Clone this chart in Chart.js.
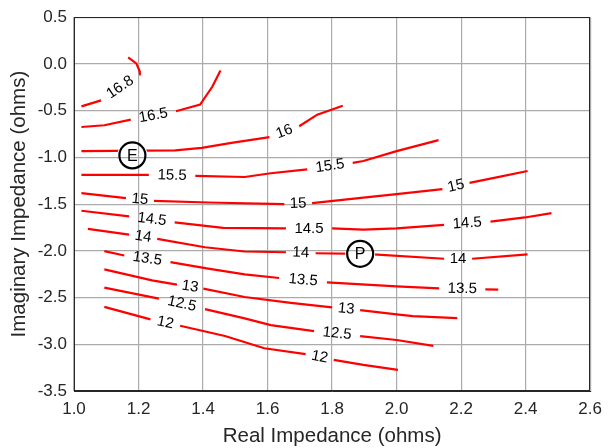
<!DOCTYPE html>
<html><head><meta charset="utf-8">
<script src="https://cdn.jsdelivr.net/npm/chart.js@4.4.1/dist/chart.umd.min.js"></script>
<style>html,body{margin:0;padding:0;background:#fff}#wrap{width:610px;height:448px;position:relative}</style>
</head><body><div id="wrap"><canvas id="c"></canvas></div>
<script>
const xTicks = [1.0, 1.2, 1.4, 1.6, 1.8, 2.0, 2.2, 2.4, 2.6];
const yTicks = [-3.5, -3.0, -2.5, -2.0, -1.5, -1.0, -0.5, 0.0, 0.5];

const levels = ['16.8', '16.5', '16', '15.5', '15', '14.5', '14', '13.5', '13', '12.5', '12'];

// contour polylines [real, imag]; null = gap where the contour label sits
const c16_8 = [[1.023,-0.454],[1.084,-0.390],null,[1.202,-0.111],[1.204,-0.082],[1.193,0.006],[1.168,0.070]];
const c16_5 = [[1.023,-0.675],[1.094,-0.656],[1.176,-0.596],null,[1.316,-0.507],[1.391,-0.436],[1.429,-0.242],[1.454,-0.071]];
const c16   = [[1.023,-0.933],[1.314,-0.926],[1.396,-0.898],[1.488,-0.845],[1.606,-0.784],null,[1.698,-0.667],[1.754,-0.543],[1.833,-0.447]];
const c15_5 = [[1.023,-1.188],[1.232,-1.188],null,[1.376,-1.199],[1.529,-1.210],[1.610,-1.170],[1.723,-1.128],null,[1.864,-1.058],[1.897,-1.039],[2.000,-0.933],[2.130,-0.816]];
const c15   = [[1.023,-1.383],[1.161,-1.436],null,[1.248,-1.465],[1.416,-1.483],[1.652,-1.500],null,[1.738,-1.489],[1.897,-1.430],[2.000,-1.394],[2.142,-1.340],null,[2.226,-1.273],[2.306,-1.217],[2.406,-1.146]];
const c14_5 = [[1.023,-1.571],[1.171,-1.632],null,[1.312,-1.696],[1.462,-1.755],[1.657,-1.760],null,[1.800,-1.760],[1.897,-1.773],[2.000,-1.760],[2.147,-1.723],null,[2.291,-1.688],[2.398,-1.643],[2.480,-1.596]];
const c14   = [[1.043,-1.766],[1.171,-1.827],null,[1.258,-1.872],[1.406,-1.962],[1.529,-2.007],[1.657,-2.015],null,[1.749,-2.026],[1.887,-2.032],[1.928,-2.039],[2.147,-2.085],null,[2.234,-2.085],[2.406,-2.039]];
const c13_5 = [[1.094,-2.004],[1.156,-2.050],null,[1.299,-2.121],[1.416,-2.191],[1.529,-2.252],[1.636,-2.291],null,[1.784,-2.337],[2.000,-2.380],[2.132,-2.401],null,[2.275,-2.412],[2.315,-2.415]];
const c13   = [[1.094,-2.199],[1.242,-2.316],[1.319,-2.362],null,[1.401,-2.404],[1.529,-2.494],[1.672,-2.557],[1.800,-2.606],null,[1.887,-2.635],[2.000,-2.681],[2.050,-2.699],[2.188,-2.720]];
const c12_5 = [[1.094,-2.394],[1.263,-2.511],null,[1.406,-2.624],[1.529,-2.723],[1.610,-2.795],[1.744,-2.859],null,[1.887,-2.912],[2.000,-2.954],[2.114,-3.018]];
const c12   = [[1.094,-2.600],[1.237,-2.734],null,[1.329,-2.802],[1.468,-2.912],[1.590,-3.043],[1.718,-3.106],null,[1.805,-3.167],[1.897,-3.220],[2.004,-3.273]];

const contours = [c16_8, c16_5, c16, c15_5, c15, c14_5, c14, c13_5, c13, c12_5, c12];

const markerNames = ['E', 'P'];
const markerX = [1.181, 1.887];
const markerY = [-0.979, -2.032];

const FONT = "'Liberation Sans', Arial, Helvetica, sans-serif";
const TXT = '#262626';
const MARK_R = 13;

const datasets = contours.map((arr, k) => ({
  label: levels[k],
  isContour: true,
  data: arr.map((p, i) => p ? {x: p[0], y: p[1]} : {x: (arr[i-1][0] + arr[i+1][0]) / 2, y: null}),
  borderColor: '#ff0000',
  borderWidth: 2.2,
  pointRadius: 0,
  fill: false,
  tension: 0,
  spanGaps: false
}));
datasets.push({
  type: 'scatter',
  label: 'markers',
  data: markerX.map((x, i) => ({x: x, y: markerY[i]})),
  pointRadius: MARK_R,
  pointHoverRadius: MARK_R,
  borderColor: '#000',
  borderWidth: 2.2,
  backgroundColor: 'rgba(0,0,0,0)',
  showLine: false
});

const contourPlugin = {
  id: 'contourPlugin',
  beforeDatasetDraw(chart, args) {
    const ds = chart.data.datasets[args.index];
    if (!ds.isContour) return;
    const ctx = chart.ctx, xs = chart.scales.x, ys = chart.scales.y;
    ctx.save();
    ctx.beginPath();
    ctx.rect(0, 0, chart.width, chart.height);
    markerX.forEach((mx, i) => {
      const px = xs.getPixelForValue(mx), py = ys.getPixelForValue(markerY[i]);
      ctx.moveTo(px + MARK_R + 2, py);
      ctx.arc(px, py, MARK_R + 2, 0, Math.PI * 2);
    });
    ctx.clip('evenodd');
  },
  afterDatasetDraw(chart, args) {
    const ds = chart.data.datasets[args.index];
    if (!ds.isContour) return;
    chart.ctx.restore();
  },
  afterDatasetsDraw(chart) {
    const ctx = chart.ctx, xs = chart.scales.x, ys = chart.scales.y, a = chart.chartArea;
    // box
    ctx.save();
    ctx.strokeStyle = TXT;
    ctx.lineWidth = 1;
    ctx.strokeRect(Math.round(a.left) + 0.5, Math.round(a.top) + 0.5, Math.round(a.right - a.left) - 1, Math.round(a.bottom - a.top) - 1);
    // contour labels
    ctx.fillStyle = '#000';
    ctx.font = '15px ' + FONT;
    ctx.textAlign = 'center';
    ctx.textBaseline = 'middle';
    contours.forEach((arr, k) => {
      arr.forEach((p, i) => {
        if (p !== null) return;
        const a0 = arr[i-1], a1 = arr[i+1];
        const x0 = xs.getPixelForValue(a0[0]), y0 = ys.getPixelForValue(a0[1]);
        const x1 = xs.getPixelForValue(a1[0]), y1 = ys.getPixelForValue(a1[1]);
        let ang = Math.atan2(y1 - y0, x1 - x0);
        if (ang > Math.PI / 2) ang -= Math.PI;
        if (ang < -Math.PI / 2) ang += Math.PI;
        ctx.save();
        ctx.translate((x0 + x1) / 2, (y0 + y1) / 2);
        ctx.rotate(ang);
        ctx.fillText(levels[k], 0, 0);
        ctx.restore();
      });
    });
    // marker letters
    ctx.font = '16px ' + FONT;
    ctx.fillStyle = '#000';
    markerNames.forEach((n, i) => {
      ctx.fillText(n, xs.getPixelForValue(markerX[i]), ys.getPixelForValue(markerY[i]) + 1);
    });
    ctx.restore();
  }
};

new Chart(document.getElementById('c'), {
  type: 'line',
  data: {datasets: datasets},
  plugins: [contourPlugin],
  options: {
    responsive: true,
    maintainAspectRatio: false,
    animation: false,
    events: [],
    layout: {padding: {left: 0, top: 15, right: 14, bottom: 0}},
    plugins: {legend: {display: false}, tooltip: {enabled: false}},
    scales: {
      x: {
        type: 'linear',
        min: 1.0, max: 2.6,
        afterBuildTicks: s => { s.ticks = xTicks.map(v => ({value: v})); },
        afterFit: s => { s.height = 57; },
        grid: {color: '#ababab', lineWidth: 1.2, drawTicks: false},
        border: {display: true, color: TXT, width: 1},
        ticks: {color: TXT, font: {family: FONT, size: 17}, padding: 8, maxRotation: 0, autoSkip: false,
                callback: v => Number(v).toFixed(1)},
        title: {display: true, text: 'Real Impedance (ohms)', color: TXT,
                font: {family: FONT, size: 20.5, lineHeight: 1}, padding: {top: 0, bottom: 1}}
      },
      y: {
        type: 'linear',
        min: -3.5, max: 0.5,
        afterBuildTicks: s => { s.ticks = yTicks.map(v => ({value: v})); },
        afterFit: s => { s.width = 74; },
        grid: {color: '#ababab', lineWidth: 1.2, drawTicks: false},
        border: {display: true, color: TXT, width: 1},
        ticks: {color: TXT, font: {family: FONT, size: 17}, padding: 7, autoSkip: false,
                callback: v => Number(v).toFixed(1)},
        title: {display: true, text: 'Imaginary Impedance (ohms)', color: TXT,
                font: {family: FONT, size: 20.5, lineHeight: 1}, padding: {top: 9, bottom: 0}}
      }
    }
  }
});
</script>
</body></html>
